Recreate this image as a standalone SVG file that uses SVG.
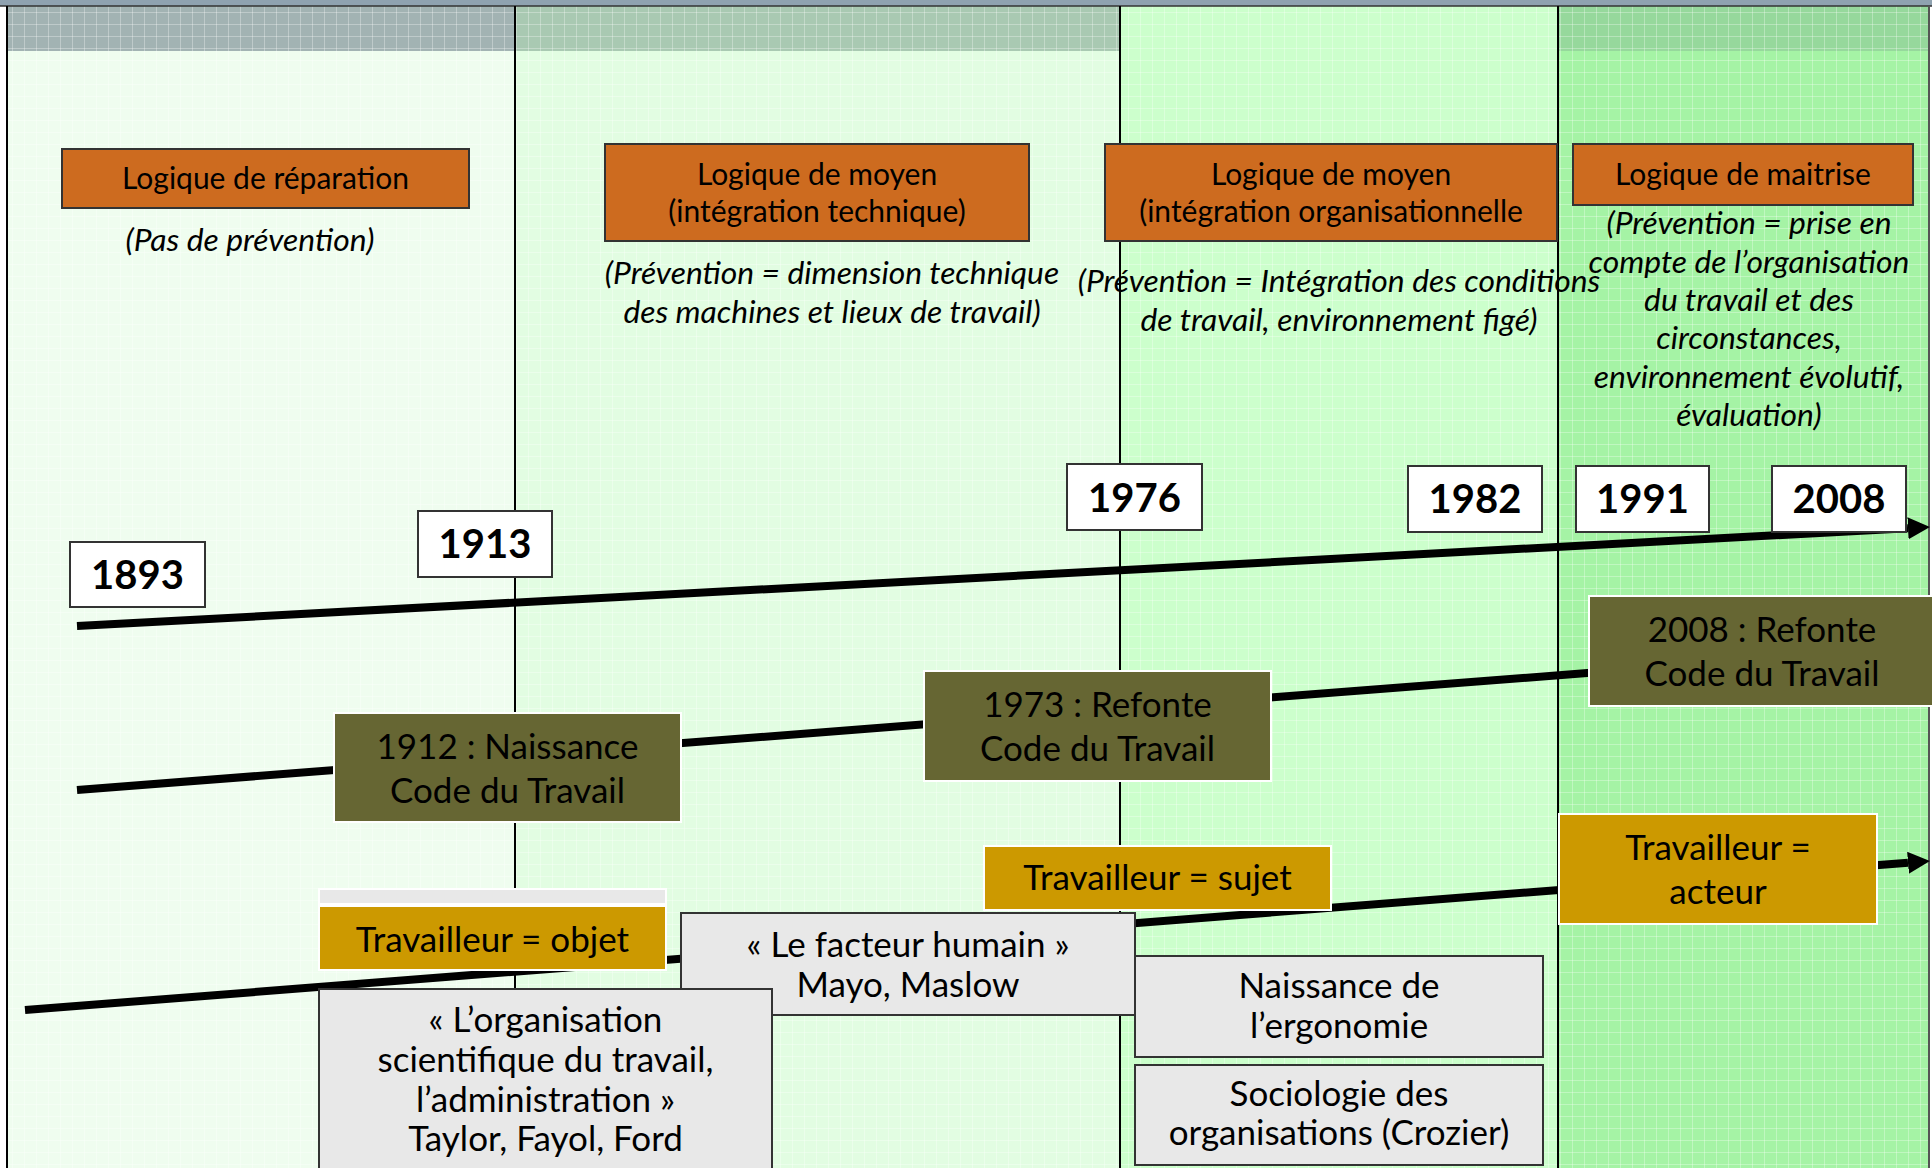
<svg xmlns="http://www.w3.org/2000/svg" width="1932" height="1168" viewBox="0 0 1932 1168">
<defs>
<style>
.t{font-family:Lato,"Open Sans","Liberation Sans",sans-serif;font-size:30px;fill:#000;text-anchor:middle}
.b{font-size:35px}
.i{font-family:Lato,"Open Sans","Liberation Sans",sans-serif;font-size:31.8px;font-style:italic;fill:#000;text-anchor:middle}
.y{font-family:Lato,"Open Sans","Liberation Sans",sans-serif;font-size:40px;font-weight:bold;fill:#000;text-anchor:middle}
.orange{fill:#cd6b1f;stroke:#333;stroke-width:2}
.olive{fill:#666633;stroke:#fff;stroke-width:2}
.gold{fill:#cc9900;stroke:#fff;stroke-width:2}
.gray{fill:#e8e8e8;stroke:#333;stroke-width:2}
.year{fill:#fff;stroke:#333;stroke-width:2}
.vline{stroke:#000;stroke-width:2}
.tl{stroke:#000;stroke-width:8;fill:none}
</style>
<pattern id="grid" width="12" height="12" patternUnits="userSpaceOnUse">
<path d="M0 0.5H12M0.5 0V12" stroke="#fff" stroke-opacity="0.3" stroke-width="1"/>
</pattern>
<marker id="arr" markerUnits="userSpaceOnUse" markerWidth="24" markerHeight="24" refX="0" refY="11" orient="auto">
<path d="M0 0L22 11L0 22z" fill="#000"/>
</marker>
</defs>
<rect width="1932" height="1168" fill="#fff"/>
<g id="background">
<rect x="0" y="0" width="1932" height="6" fill="#8fa2b0"/>
<rect x="8" y="6" width="507" height="1162" fill="#effdef"/>
<rect x="8" y="6" width="507" height="45" fill="#a2b3b3"/>
<rect x="515" y="6" width="605" height="1162" fill="#e2fde2"/>
<rect x="515" y="6" width="605" height="45" fill="#a9c9b2"/>
<rect x="1120" y="6" width="438" height="1162" fill="#ccffcc"/>
<rect x="1558" y="6" width="370" height="1162" fill="#a5f3a5"/>
<rect x="1558" y="6" width="370" height="45" fill="#96d89c"/>
<rect x="8" y="6" width="1920" height="1162" fill="url(#grid)"/>
<line x1="0" y1="6" x2="1932" y2="6" stroke="#333" stroke-width="1.5"/>
<line class="vline" x1="7" y1="6" x2="7" y2="1168"/>
<line class="vline" x1="515" y1="6" x2="515" y2="1168"/>
<line class="vline" x1="1120" y1="6" x2="1120" y2="1168"/>
<line class="vline" x1="1558" y1="6" x2="1558" y2="1168"/>
<line x1="1929" y1="6" x2="1929" y2="1168" stroke="#555" stroke-width="2"/>
</g>
<g id="connectors">
<line class="tl" x1="77" y1="626" x2="1908" y2="528.2" marker-end="url(#arr)"/>
<line class="tl" x1="77" y1="790" x2="1600" y2="672"/>
<line class="tl" x1="25" y1="1010" x2="1908" y2="862.7" marker-end="url(#arr)"/>
</g>
<g id="logique-reparation">
<rect class="orange" x="62" y="149" width="407" height="59"/>
<text class="t" x="265.5" y="189">Logique de réparation</text>
</g>
<g id="note-reparation">
<text class="i" x="250" y="251">(Pas de prévention)</text>
</g>
<g id="logique-moyen-tech">
<rect class="orange" x="605" y="144" width="424" height="97"/>
<text class="t" x="817" y="185">Logique de moyen</text>
<text class="t" x="817" y="222">(intégration technique)</text>
</g>
<g id="note-tech">
<text class="i" x="832" y="284">(Prévention = dimension technique</text>
<text class="i" x="832" y="323">des machines et lieux de travail)</text>
</g>
<g id="logique-moyen-org">
<rect class="orange" x="1105" y="144" width="452" height="97"/>
<text class="t" x="1331" y="185">Logique de moyen</text>
<text class="t" x="1331" y="222">(intégration organisationnelle</text>
</g>
<g id="note-org">
<text class="i" x="1339" y="292">(Prévention = Intégration des conditions</text>
<text class="i" x="1339" y="331">de travail, environnement figé)</text>
</g>
<g id="logique-maitrise">
<rect class="orange" x="1573" y="144" width="340" height="61"/>
<text class="t" x="1743" y="185">Logique de maitrise</text>
</g>
<g id="note-maitrise">
<text class="i" x="1749" y="234">(Prévention = prise en</text>
<text class="i" x="1749" y="273">compte de l’organisation</text>
<text class="i" x="1749" y="311">du travail et des</text>
<text class="i" x="1749" y="349">circonstances,</text>
<text class="i" x="1749" y="388">environnement évolutif,</text>
<text class="i" x="1749" y="426">évaluation)</text>
</g>
<g id="y1893"><rect class="year" x="70" y="542" width="135" height="65"/><text class="y" x="137.5" y="589">1893</text></g>
<g id="y1913"><rect class="year" x="418" y="511" width="134" height="66"/><text class="y" x="485" y="558">1913</text></g>
<g id="y1976"><rect class="year" x="1067" y="464" width="135" height="66"/><text class="y" x="1134.5" y="512">1976</text></g>
<g id="y1982"><rect class="year" x="1408" y="466" width="134" height="66"/><text class="y" x="1475" y="513">1982</text></g>
<g id="y1991"><rect class="year" x="1576" y="466" width="133" height="66"/><text class="y" x="1642.5" y="513">1991</text></g>
<g id="y2008"><rect class="year" x="1772" y="466" width="134" height="66"/><text class="y" x="1839" y="513">2008</text></g>
<g id="code-1912">
<rect class="olive" x="334" y="713" width="347" height="109"/>
<text class="t b" x="507.5" y="759">1912 : Naissance</text>
<text class="t b" x="507.5" y="803">Code du Travail</text>
</g>
<g id="code-1973">
<rect class="olive" x="924" y="671" width="347" height="110"/>
<text class="t b" x="1097.5" y="717">1973 : Refonte</text>
<text class="t b" x="1097.5" y="761">Code du Travail</text>
</g>
<g id="code-2008">
<rect class="olive" x="1589" y="596" width="345" height="110"/>
<text class="t b" x="1762" y="642">2008 : Refonte</text>
<text class="t b" x="1762" y="686">Code du Travail</text>
</g>
<g id="travailleur-objet">
<rect x="319" y="889" width="347" height="15" fill="#e8e8e8" stroke="#fff" stroke-width="2"/>
<rect class="gold" x="319" y="906" width="347" height="64"/>
<text class="t b" x="492.5" y="952">Travailleur = objet</text>
</g>
<g id="travailleur-sujet">
<rect class="gold" x="984" y="846" width="347" height="64"/>
<text class="t b" x="1157.5" y="890">Travailleur = sujet</text>
</g>
<g id="travailleur-acteur">
<rect class="gold" x="1559" y="814" width="318" height="110"/>
<text class="t b" x="1718" y="860">Travailleur =</text>
<text class="t b" x="1718" y="904">acteur</text>
</g>
<g id="facteur-humain">
<rect class="gray" x="681" y="913" width="454" height="102"/>
<text class="t b" x="908" y="957">« Le facteur humain »</text>
<text class="t b" x="908" y="997">Mayo, Maslow</text>
</g>
<g id="organisation-scientifique">
<rect class="gray" x="319" y="989" width="453" height="190"/>
<text class="t b" x="545.5" y="1032">« L’organisation</text>
<text class="t b" x="545.5" y="1072">scientifique du travail,</text>
<text class="t b" x="545.5" y="1112">l’administration »</text>
<text class="t b" x="545.5" y="1151">Taylor, Fayol, Ford</text>
</g>
<g id="ergonomie">
<rect class="gray" x="1135" y="956" width="408" height="101"/>
<text class="t b" x="1339" y="998">Naissance de</text>
<text class="t b" x="1339" y="1038">l’ergonomie</text>
</g>
<g id="sociologie">
<rect class="gray" x="1135" y="1065" width="408" height="100"/>
<text class="t b" x="1339" y="1106">Sociologie des</text>
<text class="t b" x="1339" y="1145">organisations (Crozier)</text>
</g>
</svg>
